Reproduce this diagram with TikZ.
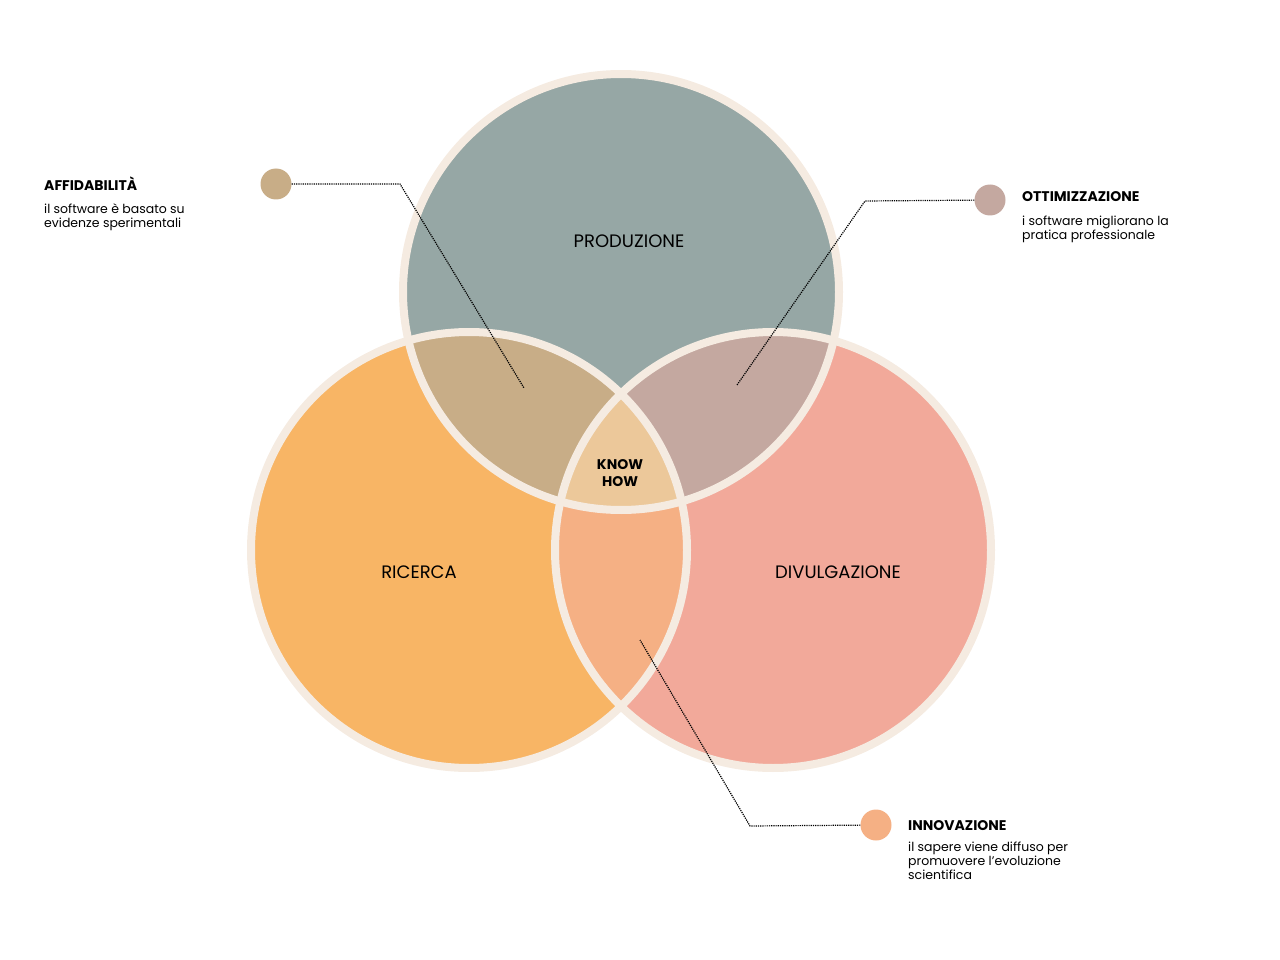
\documentclass[tikz,border=0pt]{standalone}
\usepackage{fontspec}
\setmainfont{Poppins}
\definecolor{cream}{HTML}{F5EBE1}
\definecolor{prodcol}{HTML}{96A7A5}
\definecolor{riccol}{HTML}{F8B565}
\definecolor{divcol}{HTML}{F2A99A}
\definecolor{affcol}{HTML}{C8AD87}
\definecolor{ottcol}{HTML}{C4A8A0}
\definecolor{inncol}{HTML}{F5B084}
\definecolor{knowcol}{HTML}{ECC89A}
\tikzset{
  ring/.style={draw=cream,line width=8pt},
  leader/.style={densely dotted,line width=1.2pt},
  bullet/.style={circle,minimum size=31pt,inner sep=0pt},
  title/.style={anchor=west,inner sep=0pt,font=\fontsize{14}{16}\selectfont\bfseries},
  desc/.style={anchor=north west,inner sep=0pt,align=left,font=\fontsize{12.5}{14}\selectfont},
  setname/.style={font=\fontsize{18}{20}\selectfont}
}
\begin{document}
\begin{tikzpicture}[x=1pt,y=-1pt]
  \useasboundingbox (0,0) rectangle (1280,960);
  \coordinate (cP) at (621,292);
  \coordinate (cR) at (469,550);
  \coordinate (cD) at (773,550);
  \def\rad{218}
  % sets
  \fill[prodcol] (cP) circle (\rad);
  \fill[riccol] (cR) circle (\rad);
  \fill[divcol] (cD) circle (\rad);
  % overlaps
  \begin{scope}
    \clip (cP) circle (\rad);
    \fill[affcol] (cR) circle (\rad);
    \fill[ottcol] (cD) circle (\rad);
  \end{scope}
  \begin{scope}
    \clip (cR) circle (\rad);
    \fill[inncol] (cD) circle (\rad);
    \clip (cD) circle (\rad);
    \fill[knowcol] (cP) circle (\rad);
  \end{scope}
  \draw[ring] (cP) circle (\rad);
  \draw[ring] (cR) circle (\rad);
  \draw[ring] (cD) circle (\rad);
  % labels of sets
  \node[setname] (prod) at (629,241) {PRODUZIONE};
  \node[setname] (ric) at (419,572) {RICERCA};
  \node[setname] (div) at (838,572) {DIVULGAZIONE};
  \node[align=center,font=\fontsize{14}{17}\selectfont\bfseries] (know) at (620,473) {KNOW\\HOW};
  % callouts
  \node[bullet,fill=affcol] (affdot) at (276,184) {};
  \node[bullet,fill=ottcol] (ottdot) at (990,200) {};
  \node[bullet,fill=inncol] (inndot) at (876,825) {};
  \coordinate (affbend) at (400,184);
  \coordinate (affend) at (524,388);
  \coordinate (ottbend) at (865,201);
  \coordinate (ottend) at (737,385);
  \coordinate (innbend) at (750,826);
  \coordinate (innend) at (640,640);
  \draw[leader] (affdot) -- (affbend) -- (affend);
  \draw[leader] (ottdot) -- (ottbend) -- (ottend);
  \draw[leader] (inndot) -- (innbend) -- (innend);
  \node[title] (afft) at (44,184) {AFFIDABILITÀ};
  \node[desc] (affd) at (44,204) {il software è basato su\\evidenze sperimentali};
  \node[title] (ottt) at (1022,197) {OTTIMIZZAZIONE};
  \node[desc] (ottd) at (1022,216) {i software migliorano la\\pratica professionale};
  \node[title] (innt) at (908,826) {INNOVAZIONE};
  \node[desc] (innd) at (908,842) {il sapere viene diffuso per\\promuovere l’evoluzione\\scientifica};
\end{tikzpicture}
\end{document}
